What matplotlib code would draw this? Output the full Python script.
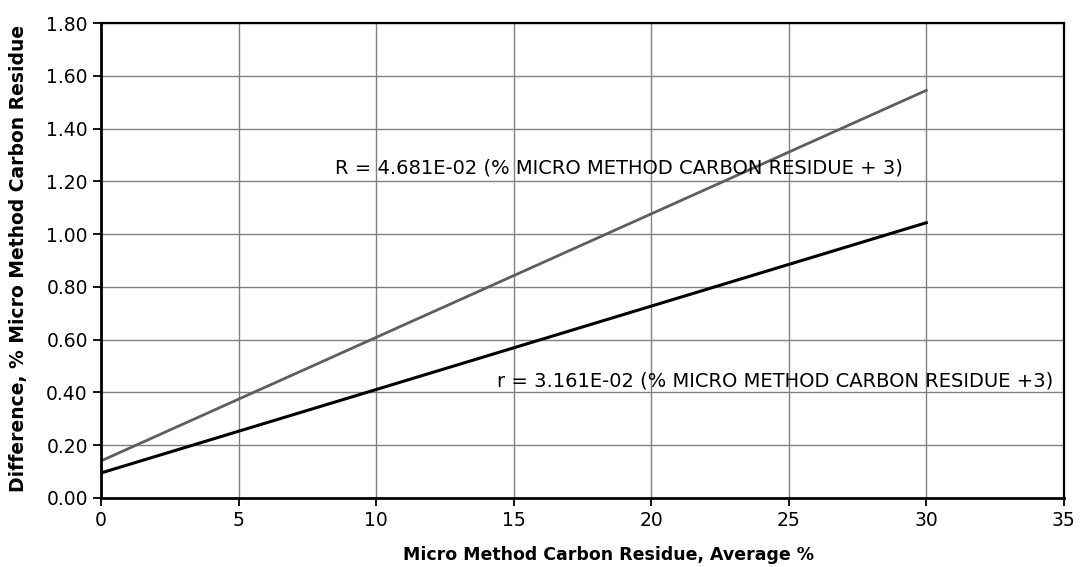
import matplotlib.pyplot as plt
import numpy as np

# repeatability (r) and reproducibility (R) coefficients
coef_R = 4.681e-02
coef_r = 3.161e-02
offset = 3
x_avg = np.array([0, 30])

label_R = "R = 4.681E-02 (% MICRO METHOD CARBON RESIDUE + 3)"
label_r = "r = 3.161E-02 (% MICRO METHOD CARBON RESIDUE +3)"

x_ticks = [0, 5, 10, 15, 20, 25, 30, 35]
y_ticks = [0.0, 0.2, 0.4, 0.6, 0.8, 1.0, 1.2, 1.4, 1.6, 1.8]

plt.rcParams['font.family'] = ['DejaVu Sans']

fig = plt.figure(figsize=(10.8, 5.67), dpi=100)
ax = fig.add_axes([0.0935, 0.1217, 0.8915, 0.8377])

ax.plot(x_avg, coef_R * (x_avg + offset), color='#5e5e5e', lw=2.0)
ax.plot(x_avg, coef_r * (x_avg + offset), color='black', lw=2.2)

ax.text(8.5, 1.25, label_R, fontsize=14, va='center', ha='left')
ax.text(14.4, 0.443, label_r, fontsize=14, va='center', ha='left')

ax.set_xlim(0, 35)
ax.set_ylim(0, 1.8)
ax.set_xticks(x_ticks)
ax.set_yticks(y_ticks)
ax.set_yticklabels([f"{v:.2f}" for v in y_ticks])
ax.grid(True, color='#808080', lw=1.0)
ax.set_axisbelow(True)
ax.tick_params(axis='both', labelsize=13.5, direction='out', length=6, width=1.3)

for side in ['left', 'bottom']:
    ax.spines[side].set_linewidth(2.0)
for side in ['top', 'right']:
    ax.spines[side].set_linewidth(1.6)

ax.set_xlabel("Micro Method Carbon Residue, Average %", fontsize=12.5,
              fontweight='bold')
ax.xaxis.set_label_coords(0.527, -0.102)
ax.set_ylabel("Difference, % Micro Method Carbon Residue", fontsize=13.5,
              fontweight='bold')
ax.yaxis.set_label_coords(-0.076, 0.505)

plt.savefig('out.png', dpi=100)
